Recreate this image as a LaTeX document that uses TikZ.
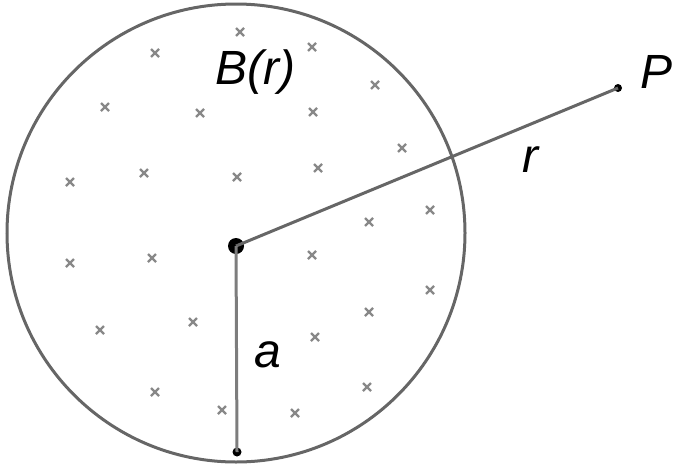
\documentclass[tikz,border=0pt]{standalone}
\usepackage{fontspec}
\setmainfont{Liberation Sans}
\definecolor{LineGray}{HTML}{666666}
\definecolor{MarkGray}{HTML}{888888}
\tikzset{
  lbl/.style={font=\fontsize{48}{48}\selectfont\itshape, inner sep=0pt},
  dot/.style={circle, fill=black, inner sep=0pt, minimum size=#1},
}

\begin{document}
\begin{tikzpicture}[x=1pt, y=-1pt]
  \useasboundingbox (0,0) rectangle (674,466);
  % ball
  \draw[LineGray, line width=3pt] (236,233) circle[radius=229];
  % sample points
  \foreach \mx/\my in {240/32, 155/53, 312/47, 105/107, 200/113, 313/112, 375/85,
                       70/182, 144/173, 237/177, 318/168, 402/148, 430/210, 369/222,
                       70/263, 152/258, 312/255, 430/290, 369/312,
                       100/330, 193/322, 315/337, 155/392, 222/410, 295/413, 367/387} {
      \draw[MarkGray, line width=2.2pt] (\mx-4,\my-4) -- (\mx+4,\my+4)
                                        (\mx-4,\my+4) -- (\mx+4,\my-4);
  }
  \node[dot=16pt] (O) at (236,246) {};
  \node[dot=8pt] (P) at (618,88) {};
  \node[dot=9pt] (A) at (237,452) {};
  \draw[LineGray, line width=3pt] (O.center) -- (P.center);
  \draw[LineGray!85, line width=3pt] (O.center) -- (A.center);
  \node[lbl] (ball) at (255,72) {B(r)};
  \node[lbl] (lP) at (656,72) {P};
  \node[lbl] (lr) at (530,160) {r};
  \node[lbl] (la) at (268,355) {a};
\end{tikzpicture}
\end{document}
